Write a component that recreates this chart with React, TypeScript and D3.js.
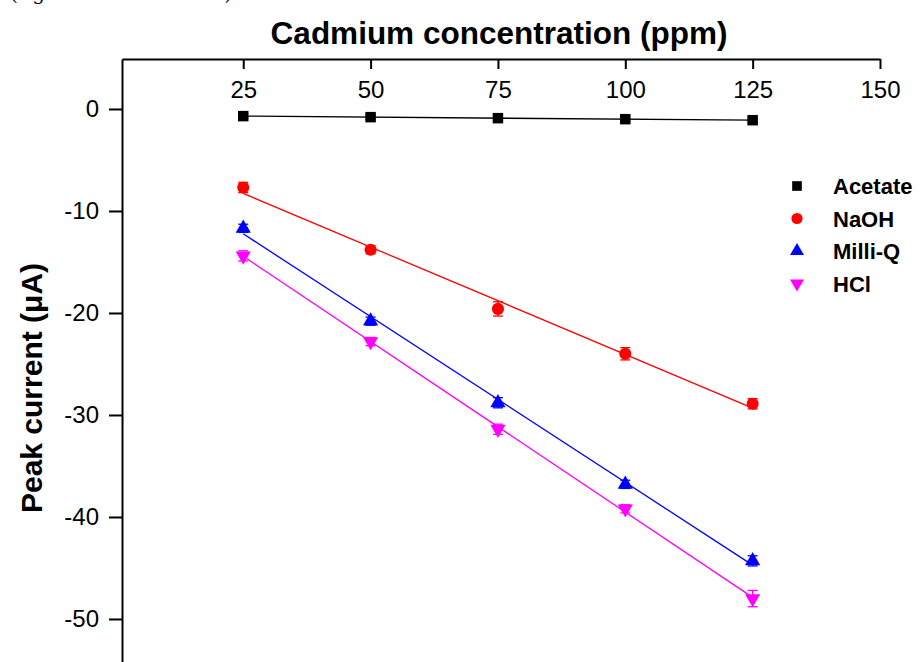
import React, { useEffect, useRef } from 'react';
import * as d3 from 'd3';

// concentrations (ppm)
const concentrations = [25, 50, 75, 100, 125];
const xTicks = [25, 50, 75, 100, 125, 150];
const yTicks = [0, -10, -20, -30, -40, -50];

// peak currents (uA)
const acetate = [-0.7, -0.8, -0.9, -1.0, -1.1];
const naoh = [-7.7, -13.8, -19.6, -24.0, -28.9];
const milliQ = [-11.7, -20.8, -28.8, -36.8, -44.3];
const hcl = [-14.4, -22.8, -31.4, -39.2, -48.0];

const acetateErr = [0.2, 0.2, 0.2, 0.2, 0.2];
const naohErr = [0.5, 0.4, 0.7, 0.6, 0.5];
const milliQErr = [0.4, 0.4, 0.5, 0.4, 0.5];
const hclErr = [0.5, 0.4, 0.5, 0.4, 0.8];

const seriesNames = ['Acetate', 'NaOH', 'Milli-Q', 'HCl'];
const seriesColors = ['#000000', '#ff0000', '#0000ff', '#ff00ff'];
const seriesShapes = ['square', 'circle', 'triangle', 'triangleDown'];

const W = 920;
const H = 662;
const FONT = '"Liberation Sans", Arial, sans-serif';

const App = () => {
    const ref = useRef(null);

    useEffect(() => {
        const svg = d3.select(ref.current);
        svg.selectAll('*').remove();

        const left = 122;
        const right = 880;
        const top = 59;

        const x = d3.scaleLinear().domain([1.2, 150]).range([left, right]);
        const y = d3.scaleLinear().domain([4.9, -60]).range([top, top + 10.2 * 64.9]);

        svg.append('rect').attr('width', W).attr('height', H).attr('fill', '#ffffff');

        // caption line above the figure, cut off by the page edge
        svg.append('text')
            .attr('x', 10)
            .attr('y', 0)
            .attr('textLength', 222)
            .style('font-family', '"DejaVu Serif", serif')
            .style('font-size', '20px')
            .text('(Agilent ICP-MS data)');

        // top x axis, ticks inwards, labels below it
        const xAxis = d3.axisTop(x).tickValues(xTicks).tickSize(-10).tickPadding(-39).tickSizeOuter(0)
            .tickFormat((d) => String(d));
        const gx = svg.append('g').attr('transform', `translate(0,${top})`).call(xAxis);
        gx.select('.domain').attr('stroke', '#000').attr('stroke-width', 2);
        gx.selectAll('.tick line').attr('stroke', '#000').attr('stroke-width', 2);
        gx.selectAll('.tick text')
            .style('font-family', FONT)
            .style('font-size', '24px')
            .attr('fill', '#000')
            .attr('dy', '0');

        // left y axis, ticks outwards
        const yAxis = d3.axisLeft(y).tickValues(yTicks).tickSize(13).tickPadding(10).tickSizeOuter(0)
            .tickFormat((d) => String(d));
        const gy = svg.append('g').attr('transform', `translate(${left},0)`).call(yAxis);
        gy.select('.domain').attr('stroke', '#000').attr('stroke-width', 2);
        gy.selectAll('.tick line').attr('stroke', '#000').attr('stroke-width', 2);
        gy.selectAll('.tick text')
            .style('font-family', FONT)
            .style('font-size', '24px')
            .attr('fill', '#000');

        // axis titles
        svg.append('text')
            .attr('x', 499)
            .attr('y', 44)
            .attr('text-anchor', 'middle')
            .style('font-family', FONT)
            .style('font-size', '31.5px')
            .style('font-weight', 'bold')
            .text('Cadmium concentration (ppm)');

        svg.append('text')
            .attr('transform', 'translate(42,388) rotate(-90)')
            .attr('text-anchor', 'middle')
            .style('font-family', FONT)
            .style('font-size', '30px')
            .style('font-weight', 'bold')
            .text('Peak current (μA)');

        const allValues = [acetate, naoh, milliQ, hcl];
        const allErr = [acetateErr, naohErr, milliQErr, hclErr];

        const symbolFor = (shape, size) => {
            if (shape === 'square') return d3.symbol().type(d3.symbolSquare).size(size)();
            if (shape === 'circle') return d3.symbol().type(d3.symbolCircle).size(size)();
            return d3.symbol().type(d3.symbolTriangle).size(size)();
        };
        const sizes = { square: 110, circle: 115, triangle: 100, triangleDown: 100 };

        allValues.forEach((vals, i) => {
            const color = seriesColors[i];
            const shape = seriesShapes[i];
            const g = svg.append('g');

            // linear fit
            const pts = concentrations.map((c, j) => [c, vals[j]]);
            const meanX = d3.mean(pts, (p) => p[0]);
            const meanY = d3.mean(pts, (p) => p[1]);
            const slope = d3.sum(pts, (p) => (p[0] - meanX) * (p[1] - meanY))
                / d3.sum(pts, (p) => (p[0] - meanX) ** 2);
            const icpt = meanY - slope * meanX;
            const x0 = concentrations[0];
            const x1 = concentrations[concentrations.length - 1];
            g.append('line')
                .attr('x1', x(x0)).attr('y1', y(icpt + slope * x0))
                .attr('x2', x(x1)).attr('y2', y(icpt + slope * x1))
                .attr('stroke', color)
                .attr('stroke-width', 1.3);

            // error bars
            concentrations.forEach((c, j) => {
                const e = allErr[i][j];
                const cx = x(c);
                g.append('line').attr('x1', cx).attr('x2', cx)
                    .attr('y1', y(vals[j] + e)).attr('y2', y(vals[j] - e))
                    .attr('stroke', color).attr('stroke-width', 1.3);
                [vals[j] + e, vals[j] - e].forEach((v) => {
                    g.append('line').attr('x1', cx - 5).attr('x2', cx + 5)
                        .attr('y1', y(v)).attr('y2', y(v))
                        .attr('stroke', color).attr('stroke-width', 1.3);
                });
            });

            // markers
            g.selectAll('path.pt')
                .data(vals)
                .join('path')
                .attr('class', 'pt')
                .attr('d', symbolFor(shape, sizes[shape]))
                .attr('transform', (d, j) => `translate(${x(concentrations[j])},${y(d)})${shape === 'triangleDown' ? ' rotate(180)' : ''}`)
                .attr('fill', color);

            // legend
            const ly = 186 + i * 32.5;
            svg.append('path')
                .attr('d', symbolFor(shape, sizes[shape] * 0.85))
                .attr('transform', `translate(797,${ly})${shape === 'triangleDown' ? ' rotate(180)' : ''}`)
                .attr('fill', color);
            svg.append('text')
                .attr('x', 833)
                .attr('y', ly + 8)
                .style('font-family', FONT)
                .style('font-size', '22px')
                .style('font-weight', 'bold')
                .text(seriesNames[i]);
        });
    }, []);

    return (
        <svg
            ref={ref}
            width={W}
            height={H}
            style={{ position: 'absolute', left: 0, top: 0, display: 'block' }}
        />
    );
};

export default App;
